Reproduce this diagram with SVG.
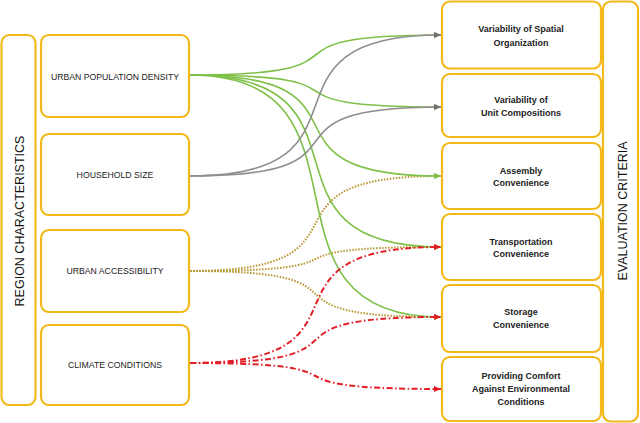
<svg xmlns="http://www.w3.org/2000/svg" width="640" height="423" viewBox="0 0 640 423">
<style>
.box{fill:#fff;stroke:#F3B91B;stroke-width:2.2}
.lt{font-family:"Liberation Sans",Arial,sans-serif;font-size:8.7px;fill:#222;text-anchor:middle}
.rt{font-family:"Liberation Sans",Arial,sans-serif;font-size:9px;font-weight:bold;fill:#222;text-anchor:middle}
.vt{font-family:"Liberation Sans",Arial,sans-serif;font-size:12.5px;fill:#111;text-anchor:middle}
.c{fill:none}
.g{stroke:#7FC049;stroke-width:1.6}
.gr{stroke:#8E8E8E;stroke-width:1.6}
.o{stroke:#B8952F;stroke-width:2;stroke-dasharray:1.5 1.5}
.r{stroke:#E21F26;stroke-width:2;stroke-dasharray:6 2.5 1.5 2.5}
</style>
<defs>
<marker id="ag" markerUnits="userSpaceOnUse" markerWidth="7" markerHeight="6" refX="7" refY="3" orient="auto"><path d="M0,0 L7,3 L0,6 z" fill="#7FC049"/></marker>
<marker id="agr" markerUnits="userSpaceOnUse" markerWidth="7" markerHeight="6" refX="7" refY="3" orient="auto"><path d="M0,0 L7,3 L0,6 z" fill="#707070"/></marker>
<marker id="ao" markerUnits="userSpaceOnUse" markerWidth="7" markerHeight="6" refX="7" refY="3" orient="auto"><path d="M0,0 L7,3 L0,6 z" fill="#B8952F"/></marker>
<marker id="ar" markerUnits="userSpaceOnUse" markerWidth="7" markerHeight="6" refX="7" refY="3" orient="auto"><path d="M0,0 L7,3 L0,6 z" fill="#E21F26"/></marker>
</defs>

<g id="region-characteristics">
<rect class="box" x="1.5" y="35" width="34" height="370" rx="8"/>
<text class="vt" transform="translate(24,221) rotate(-90)">REGION CHARACTERISTICS</text>
</g>
<g id="urban-population-density">
<rect class="box" x="41" y="35" width="148" height="82" rx="8"/>
<text class="lt" x="115" y="80">URBAN POPULATION DENSITY</text>
</g>
<g id="household-size">
<rect class="box" x="41" y="134" width="148" height="81" rx="8"/>
<text class="lt" x="115" y="178">HOUSEHOLD SIZE</text>
</g>
<g id="urban-accessibility">
<rect class="box" x="41" y="230" width="148" height="82" rx="8"/>
<text class="lt" x="115" y="274">URBAN ACCESSIBILITY</text>
</g>
<g id="climate-conditions">
<rect class="box" x="41" y="325" width="148" height="80" rx="8"/>
<text class="lt" x="115" y="368">CLIMATE CONDITIONS</text>
</g>

<g id="evaluation-criteria">
<rect class="box" x="603" y="1.5" width="35" height="420" rx="8"/>
<text class="vt" transform="translate(627,211) rotate(-90)">EVALUATION CRITERIA</text>
</g>
<g id="spatial-organization">
<rect class="box" x="442" y="1.5" width="159" height="67" rx="8"/>
<text class="rt" x="521" y="32">Variability of Spatial</text>
<text class="rt" x="521" y="46">Organization</text>
</g>
<g id="unit-compositions">
<rect class="box" x="442" y="74" width="159" height="63" rx="8"/>
<text class="rt" x="521" y="103">Variability of</text>
<text class="rt" x="521" y="116">Unit Compositions</text>
</g>
<g id="assembly-convenience">
<rect class="box" x="442" y="143" width="159" height="66" rx="8"/>
<text class="rt" x="521" y="174">Assembly</text>
<text class="rt" x="521" y="186">Convenience</text>
</g>
<g id="transportation-convenience">
<rect class="box" x="442" y="214" width="159" height="66" rx="8"/>
<text class="rt" x="521" y="245">Transportation</text>
<text class="rt" x="521" y="257">Convenience</text>
</g>
<g id="storage-convenience">
<rect class="box" x="442" y="285" width="159" height="67" rx="8"/>
<text class="rt" x="521" y="315">Storage</text>
<text class="rt" x="521" y="328">Convenience</text>
</g>
<g id="environmental-comfort">
<rect class="box" x="442" y="357" width="159" height="64" rx="8"/>
<text class="rt" x="521" y="379">Providing Comfort</text>
<text class="rt" x="521" y="392">Against Environmental</text>
<text class="rt" x="521" y="405">Conditions</text>
</g>

<g id="connectors" class="c">
<path class="o" marker-end="url(#ao)" d="M190,271 C390,271 241,176 441,176"/>
<path class="o" marker-end="url(#ao)" d="M190,271 C390,271 241,247 441,247"/>
<path class="o" marker-end="url(#ao)" d="M190,271 C390,271 241,317 441,317"/>
<path class="g" marker-end="url(#ag)" d="M190,75 C390,75 241,35 441,35"/>
<path class="g" marker-end="url(#ag)" d="M190,75 C390,75 241,107 441,107"/>
<path class="g" marker-end="url(#ag)" d="M190,75 C390,75 241,176 441,176"/>
<path class="g" marker-end="url(#ag)" d="M190,75 C390,75 241,247 441,247"/>
<path class="g" marker-end="url(#ag)" d="M190,75 C390,75 241,317 441,317"/>
<path class="r" marker-end="url(#ar)" d="M190,363 C390,363 241,247 441,247"/>
<path class="r" marker-end="url(#ar)" d="M190,363 C390,363 241,317 441,317"/>
<path class="r" marker-end="url(#ar)" d="M190,363 C390,363 241,389 441,389"/>
<path class="gr" marker-end="url(#agr)" d="M190,176 C390,176 241,35 441,35"/>
<path class="gr" marker-end="url(#agr)" d="M190,176 C390,176 241,107 441,107"/>
</g>
</svg>
